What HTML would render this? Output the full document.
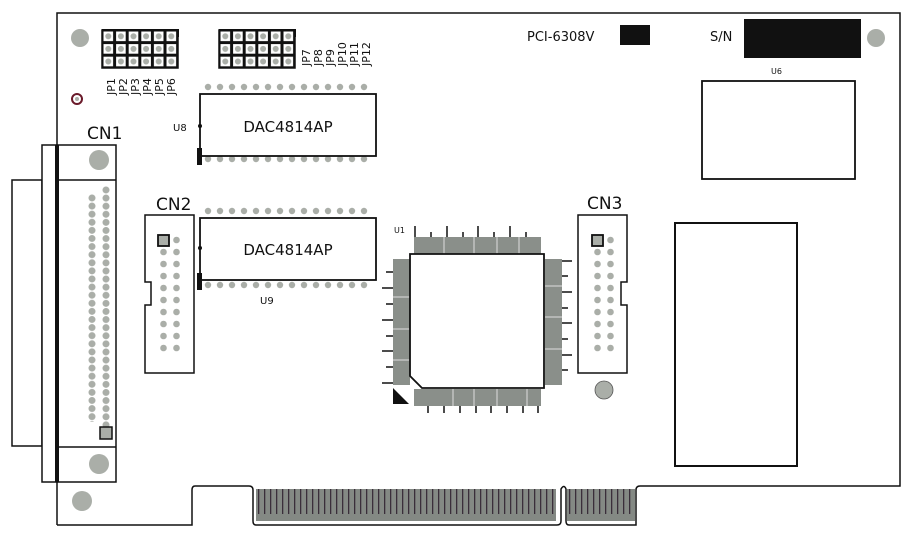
<!DOCTYPE html>
<html><head><meta charset="utf-8"><style>
html,body{margin:0;padding:0;background:#fff;width:912px;height:543px;overflow:hidden}
svg{display:block}
text{font-family:"DejaVu Sans","Liberation Sans",sans-serif;fill:#111}
</style></head><body>
<svg width="912" height="543" viewBox="0 0 912 543" xmlns="http://www.w3.org/2000/svg">
<defs>
<pattern id="dotsH" x="0" y="0" width="12" height="8" patternUnits="userSpaceOnUse"><circle cx="6" cy="4" r="3.2" fill="#aaaea8"/></pattern>
<pattern id="dotsV" x="0" y="0" width="8" height="8.1" patternUnits="userSpaceOnUse"><circle cx="4" cy="4" r="3.5" fill="#aaaea8"/></pattern>
<pattern id="dotsV12" x="0" y="0" width="13" height="12" patternUnits="userSpaceOnUse"><circle cx="6.5" cy="6" r="3.3" fill="#aaaea8"/></pattern>
<pattern id="fing" x="0" y="0" width="6" height="40" patternUnits="userSpaceOnUse"><rect width="6" height="40" fill="#848984"/><rect x="2" y="0" width="1.3" height="25" fill="#3a2e3a"/></pattern>
<pattern id="jp" x="0" y="0" width="12.6" height="12.6" patternUnits="userSpaceOnUse"><rect width="12.6" height="12.6" fill="#111"/><rect x="1.5" y="1.5" width="9.6" height="9.6" fill="#fff"/><circle cx="6.3" cy="6.3" r="3" fill="#aaaea8"/></pattern>
</defs>
<g fill="none" stroke="#111" stroke-width="1.5">
<path d="M57 525 V13 H900 V486 H640 Q636 486 636 490 V525 L569 525 Q566 525 566 521 V489 Q564 484 561 489 V521 Q561 525 557 525 H256 Q253 525 253 521 V490 Q253 486 249 486 H195 Q192 486 192 490 V525 H57"/>
</g>
<g transform="translate(256,489)"><rect width="300" height="32" fill="url(#fing)"/></g>
<g transform="translate(567,489)"><rect width="68" height="32" fill="url(#fing)"/></g>
<circle cx="80" cy="38" r="9" fill="#aaaea8"/>
<circle cx="876" cy="38" r="9" fill="#aaaea8"/>
<circle cx="82" cy="501" r="10" fill="#aaaea8"/>
<circle cx="604" cy="390" r="9" fill="#aaaea8" stroke="#555" stroke-width="0.8"/>
<circle cx="77" cy="99" r="5" fill="none" stroke="#6a1a2a" stroke-width="2"/>
<circle cx="77" cy="99" r="2" fill="#aaaea8"/>
<!-- CN1 -->
<g fill="none" stroke="#111" stroke-width="1.5">
<rect x="12" y="180" width="30" height="266" fill="#fff"/>
<rect x="42" y="145" width="15" height="337" fill="#fff"/>
<rect x="57" y="145" width="59" height="337" fill="#fff"/>
<line x1="57" y1="180" x2="116" y2="180"/>
<line x1="57" y1="447" x2="116" y2="447"/>
</g>
<rect x="55" y="145" width="4" height="337" fill="#111"/>
<circle cx="99" cy="160" r="10" fill="#aaaea8"/>
<circle cx="99" cy="464" r="10" fill="#aaaea8"/>
<g transform="translate(88,194)"><rect width="8" height="228" fill="url(#dotsV)"/></g>
<g transform="translate(102,186)"><rect width="8" height="243" fill="url(#dotsV)"/></g>
<rect x="100" y="427" width="12" height="12" fill="#aaaea8" stroke="#111" stroke-width="1.5"/>
<text x="87" y="139" font-size="17">CN1</text>
<!-- CN2 -->
<path d="M145 215 H194 V373 H145 V305 H151 V282 H145 Z" fill="#fff" stroke="#111" stroke-width="1.5"/>
<g transform="translate(157,234)"><rect width="26" height="120" fill="url(#dotsV12)"/></g>
<rect x="158" y="235" width="11" height="11" fill="#aaaea8" stroke="#111" stroke-width="1.8"/>
<text x="156" y="210" font-size="17">CN2</text>
<!-- CN3 -->
<path d="M578 215 H627 V282 H621 V305 H627 V373 H578 Z" fill="#fff" stroke="#111" stroke-width="1.5"/>
<g transform="translate(591,234)"><rect width="26" height="120" fill="url(#dotsV12)"/></g>
<rect x="592" y="235" width="11" height="11" fill="#aaaea8" stroke="#111" stroke-width="1.8"/>
<text x="587" y="209" font-size="17">CN3</text>
<!-- U8 -->
<g transform="translate(202,83)"><rect width="168" height="8" fill="url(#dotsH)"/></g>
<g transform="translate(202,155)"><rect width="168" height="8" fill="url(#dotsH)"/></g>
<rect x="200" y="94" width="176" height="62" fill="#fff" stroke="#111" stroke-width="1.8"/>
<rect x="197" y="148" width="5" height="17" fill="#111"/>
<circle cx="200" cy="126" r="2" fill="#111"/>
<text x="288" y="132" font-size="15" text-anchor="middle">DAC4814AP</text>
<text x="173" y="131" font-size="10">U8</text>
<!-- U9 -->
<g transform="translate(202,207)"><rect width="168" height="8" fill="url(#dotsH)"/></g>
<g transform="translate(202,281)"><rect width="168" height="8" fill="url(#dotsH)"/></g>
<rect x="200" y="218" width="176" height="62" fill="#fff" stroke="#111" stroke-width="1.8"/>
<rect x="197" y="273" width="5" height="17" fill="#111"/>
<circle cx="200" cy="248" r="2" fill="#111"/>
<text x="288" y="255" font-size="15" text-anchor="middle">DAC4814AP</text>
<text x="260" y="304" font-size="10">U9</text>
<!-- Jumpers -->
<rect x="102" y="29" width="77" height="8" fill="#111"/>
<g transform="translate(102,30)"><rect width="76" height="38" fill="url(#jp)" stroke="#111" stroke-width="1.5"/></g>
<rect x="219" y="29" width="77" height="8" fill="#111"/>
<g transform="translate(219,30)"><rect width="76" height="38" fill="url(#jp)" stroke="#111" stroke-width="1.5"/></g>
<g font-size="11">
<text transform="translate(115,95) rotate(-90)">JP1</text>
<text transform="translate(127,95) rotate(-90)">JP2</text>
<text transform="translate(139,95) rotate(-90)">JP3</text>
<text transform="translate(151,95) rotate(-90)">JP4</text>
<text transform="translate(163,95) rotate(-90)">JP5</text>
<text transform="translate(175,95) rotate(-90)">JP6</text>
<text transform="translate(310,66) rotate(-90)">JP7</text>
<text transform="translate(322,66) rotate(-90)">JP8</text>
<text transform="translate(334,66) rotate(-90)">JP9</text>
<text transform="translate(346,66) rotate(-90)">JP10</text>
<text transform="translate(358,66) rotate(-90)">JP11</text>
<text transform="translate(370,66) rotate(-90)">JP12</text>
</g>
<!-- U1 QFP -->
<g stroke="#111" stroke-width="1.5">
<line x1="415" y1="226" x2="415" y2="237"/><line x1="431" y1="232" x2="431" y2="237"/><line x1="447" y1="226" x2="447" y2="237"/><line x1="463" y1="232" x2="463" y2="237"/><line x1="478" y1="226" x2="478" y2="237"/><line x1="494" y1="232" x2="494" y2="237"/><line x1="510" y1="226" x2="510" y2="237"/><line x1="526" y1="232" x2="526" y2="237"/>
<line x1="428" y1="406" x2="428" y2="413"/><line x1="444" y1="406" x2="444" y2="413"/><line x1="460" y1="406" x2="460" y2="413"/><line x1="476" y1="406" x2="476" y2="413"/><line x1="491" y1="406" x2="491" y2="413"/><line x1="507" y1="406" x2="507" y2="413"/><line x1="523" y1="406" x2="523" y2="413"/><line x1="538" y1="406" x2="538" y2="413"/>
<line x1="386" y1="272" x2="393" y2="272"/><line x1="382" y1="288" x2="393" y2="288"/><line x1="386" y1="304" x2="393" y2="304"/><line x1="382" y1="320" x2="393" y2="320"/><line x1="386" y1="336" x2="393" y2="336"/><line x1="382" y1="351" x2="393" y2="351"/><line x1="386" y1="367" x2="393" y2="367"/><line x1="382" y1="383" x2="393" y2="383"/>
<line x1="561" y1="261" x2="572" y2="261"/><line x1="561" y1="276" x2="568" y2="276"/><line x1="561" y1="292" x2="572" y2="292"/><line x1="561" y1="308" x2="568" y2="308"/><line x1="561" y1="323" x2="572" y2="323"/><line x1="561" y1="339" x2="568" y2="339"/><line x1="561" y1="355" x2="572" y2="355"/><line x1="561" y1="370" x2="568" y2="370"/>
</g>
<rect x="414" y="237" width="127" height="17" fill="#8a8f8a"/>
<rect x="414" y="389" width="127" height="17" fill="#8a8f8a"/>
<rect x="393" y="259" width="17" height="126" fill="#8a8f8a"/>
<rect x="545" y="259" width="17" height="126" fill="#8a8f8a"/>
<g stroke="#ddd" stroke-width="1">
<line x1="444" y1="237" x2="444" y2="254"/><line x1="474" y1="237" x2="474" y2="254"/><line x1="497" y1="237" x2="497" y2="254"/><line x1="519" y1="237" x2="519" y2="254"/>
<line x1="453" y1="389" x2="453" y2="406"/><line x1="474" y1="389" x2="474" y2="406"/><line x1="497" y1="389" x2="497" y2="406"/><line x1="527" y1="389" x2="527" y2="406"/>
<line x1="393" y1="297" x2="410" y2="297"/><line x1="393" y1="329" x2="410" y2="329"/><line x1="393" y1="360" x2="410" y2="360"/>
<line x1="545" y1="286" x2="562" y2="286"/><line x1="545" y1="317" x2="562" y2="317"/><line x1="545" y1="349" x2="562" y2="349"/>
</g>
<path d="M410 254 H544 V388 H422 L410 376 Z" fill="#fff" stroke="#111" stroke-width="1.8"/>
<path d="M393 388 L409 404 H393 Z" fill="#111"/>
<text x="394" y="233" font-size="8">U1</text>
<!-- top right -->
<text x="527" y="41" font-size="13">PCI-6308V</text>
<rect x="620" y="25" width="30" height="20" fill="#111"/>
<text x="710" y="41" font-size="13">S/N</text>
<rect x="744" y="19" width="117" height="39" fill="#111"/>
<text x="771" y="74" font-size="8">U6</text>
<rect x="702" y="81" width="153" height="98" fill="#fff" stroke="#111" stroke-width="1.8"/>
<rect x="675" y="223" width="122" height="243" fill="#fff" stroke="#111" stroke-width="2"/>
</svg>
</body></html>
